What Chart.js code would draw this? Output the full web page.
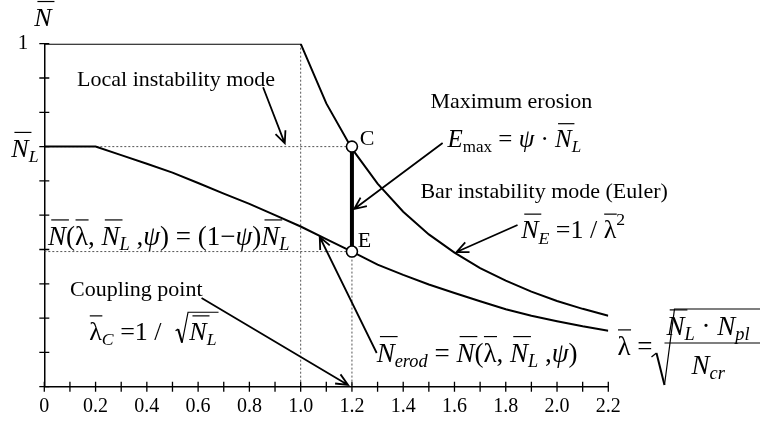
<!DOCTYPE html>
<html><head><meta charset="utf-8">
<script src="https://cdn.jsdelivr.net/npm/chart.js@4/dist/chart.umd.min.js"></script>
<style>html,body{margin:0;padding:0;background:#fff}#wrap{width:760px;height:421px;position:relative}</style>
</head><body><div id="wrap"><canvas id="c" width="760" height="421"></canvas></div>
<script>
// ---------- data ----------
const xTickLabels = ['0','','0.2','','0.4','','0.6','','0.8','','1.0','','1.2','','1.4','','1.6','','1.8','','2.0','','2.2'];
const lambdaEuler = [0, 1.0, 1.1, 1.2, 1.3, 1.4, 1.5, 1.6, 1.7, 1.8, 1.9, 2.0, 2.1, 2.2];
const nEuler      = [1, 1, 0.826, 0.694, 0.592, 0.510, 0.444, 0.391, 0.346, 0.309, 0.277, 0.250, 0.227, 0.207];
const lambdaErod  = [0, 0.2, 0.3, 0.4, 0.5, 0.6, 0.7, 0.8, 0.9, 1.0, 1.1, 1.2, 1.3, 1.4, 1.5, 1.6, 1.7, 1.8, 1.9, 2.0, 2.1, 2.2];
const nErod       = [0.7, 0.7, 0.675, 0.650, 0.624, 0.594, 0.563, 0.533, 0.500, 0.467, 0.430, 0.394, 0.356, 0.326, 0.298, 0.273, 0.249, 0.226, 0.207, 0.191, 0.176, 0.163];
const nL = 0.7;          // local buckling level
const nE = 0.394;        // eroded level at the coupling point
const lambdaC = 1.2;     // coupling slenderness
const lambdaOne = 1.0;

const pts = (xs, ys) => xs.map((x, i) => ({x, y: ys[i]}));

// ---------- annotation layout (data coordinates) ----------
const FONT = '"Liberation Serif", "Times New Roman", serif';
const textLabels = [
  {t: 'Local instability mode', at: [0.128, 0.876]},
  {t: 'Maximum erosion', at: [1.506, 0.8125]},
  {t: 'Bar instability mode (Euler)', at: [1.467, 0.55]},
  {t: 'Coupling point', at: [0.1001, 0.2644]},
  {t: 'C', at: [1.2303, 0.705]},
  {t: 'E', at: [1.223, 0.407]}
];
const arrows = [
  {from: [0.8534, 0.8729], to: [0.938, 0.7096]},
  {from: [1.5538, 0.7105], to: [1.2089, 0.518]},
  {from: [1.846, 0.4714], to: [1.608, 0.3927]},
  {from: [0.6134, 0.2586], to: [1.1847, 0.005]},
  {from: [1.2966, 0.0983], to: [1.0744, 0.4364]}
];
const NL = [{t:'N',i:1,b:1},{t:'L',i:1,s:'sub'}];
const equations = [
  {at: [1.573, 0.699], size: 25, runs: [{t:'E',i:1},{t:'max',s:'sub'},{t:' = '},{t:'ψ',i:1},{t:' · '},...NL]},
  {at: [1.860, 0.4326], size: 26, runs: [{t:'N',i:1,b:1},{t:'E',i:1,s:'sub'},{t:' =1 / '},{t:'λ',b:1},{t:'2',s:'sup'}]},
  {at: [0.0144, 0.413], size: 27, runs: [{t:'N',i:1,b:1},{t:'('},{t:'λ',b:1},{t:', '},...NL,{t:' ,'},{t:'ψ',i:1},{t:') = (1'},{t:'−'},{t:'ψ',i:1},{t:')'},...NL]},
  {at: [0.1754, 0.136], size: 26, runs: [{t:'λ',b:1},{t:'C',i:1,s:'sub'},{t:' =1 / ', gap: 7},{sqrt: NL}]},
  {at: [1.2966, 0.0729], size: 27, runs: [{t:'N',i:1,b:1},{t:'erod',i:1,s:'sub'},{t:' = '},{t:'N',i:1,b:1},{t:'('},{t:'λ',b:1},{t:', '},...NL,{t:' ,'},{t:'ψ',i:1},{t:')'}]}
];

// ---------- drawing helpers ----------
function runWidth(ctx, runs, size) {
  let w = 0;
  for (const r of runs) {
    if (r.sqrt) { w += 0.55 * size + runWidth(ctx, r.sqrt, size); continue; }
    const fs = r.s ? size * 0.68 : size;
    ctx.font = (r.i ? 'italic ' : '') + fs + 'px ' + FONT;
    w += ctx.measureText(r.t).width + (r.gap || 0);
  }
  return w;
}
function drawRuns(ctx, runs, x, y, size) {
  let cx = x;
  ctx.textBaseline = 'alphabetic';
  ctx.textAlign = 'left';
  for (const r of runs) {
    if (r.sqrt) {
      const inner = runWidth(ctx, r.sqrt, size);
      ctx.lineWidth = 1.3;
      ctx.beginPath();
      ctx.moveTo(cx + 0.02 * size, y - 0.36 * size);
      ctx.lineTo(cx + 0.12 * size, y - 0.42 * size);
      ctx.stroke();
      ctx.lineWidth = 2;
      ctx.beginPath();
      ctx.moveTo(cx + 0.12 * size, y - 0.42 * size);
      ctx.lineTo(cx + 0.27 * size, y + 0.1 * size);
      ctx.stroke();
      ctx.lineWidth = 1.2;
      ctx.beginPath();
      ctx.moveTo(cx + 0.27 * size, y + 0.1 * size);
      ctx.lineTo(cx + 0.5 * size, y - 1.07 * size);
      ctx.lineTo(cx + 0.55 * size + inner + 2, y - 1.07 * size);
      ctx.stroke();
      cx = drawRuns(ctx, r.sqrt, cx + 0.55 * size, y, size);
      continue;
    }
    const fs = r.s ? size * 0.68 : size;
    ctx.font = (r.i ? 'italic ' : '') + fs + 'px ' + FONT;
    const dy = r.s === 'sub' ? size * 0.2 : (r.s === 'sup' ? -size * 0.5 : 0);
    const w = ctx.measureText(r.t).width;
    ctx.fillText(r.t, cx, y + dy);
    if (r.b) {
      const off = r.i ? 0.12 * size : 0.02 * size;
      ctx.lineWidth = 1.2;
      ctx.beginPath();
      ctx.moveTo(cx + off, y - 0.93 * size);
      ctx.lineTo(cx + w + off * 0.9, y - 0.93 * size);
      ctx.stroke();
    }
    cx += w + (r.gap || 0);
  }
  return cx;
}
function arrow(ctx, x1, y1, x2, y2) {
  const a = Math.atan2(y2 - y1, x2 - x1), L = 13, h = 0.42;
  ctx.lineWidth = 1.8;
  ctx.beginPath();
  ctx.moveTo(x1, y1); ctx.lineTo(x2, y2);
  ctx.moveTo(x2 - L * Math.cos(a - h), y2 - L * Math.sin(a - h));
  ctx.lineTo(x2, y2);
  ctx.lineTo(x2 - L * Math.cos(a + h), y2 - L * Math.sin(a + h));
  ctx.stroke();
}

const overlay = {
  id: 'overlay',
  afterDatasetsDraw(chart) {
    const ctx = chart.ctx, xs = chart.scales.x, ys = chart.scales.y;
    const X = v => xs.getPixelForValue(v), Y = v => ys.getPixelForValue(v);
    ctx.save();
    ctx.strokeStyle = '#000'; ctx.fillStyle = '#000';
    // tick marks crossing both axes
    ctx.lineWidth = 1.3;
    ctx.beginPath();
    xs.ticks.forEach(t => { const px = X(t.value); ctx.moveTo(px, chart.chartArea.bottom - 5); ctx.lineTo(px, chart.chartArea.bottom + 5); });
    ys.ticks.forEach(t => { const py = Y(t.value); ctx.moveTo(chart.chartArea.left - 5, py); ctx.lineTo(chart.chartArea.left + 5, py); });
    ctx.stroke();
    // plain labels
    ctx.font = '22px ' + FONT;
    ctx.textBaseline = 'alphabetic'; ctx.textAlign = 'left';
    textLabels.forEach(l => ctx.fillText(l.t, X(l.at[0]), Y(l.at[1])));
    // arrows
    arrows.forEach(a => arrow(ctx, X(a.from[0]), Y(a.from[1]), X(a.to[0]), Y(a.to[1])));
    // equations
    equations.forEach(e => drawRuns(ctx, e.runs, X(e.at[0]), Y(e.at[1]), e.size));
    // axis title and N_L level label
    const L0 = chart.chartArea.left;
    drawRuns(ctx, [{t:'N',i:1,b:1}], L0 - 10, Y(1) - 18, 26);
    drawRuns(ctx, NL, L0 - 33, Y(nL) + 10, 26);
    // slenderness definition
    const ax = X(2.2358), ay = Y(0.0924), s = 27;
    drawRuns(ctx, [{t:'λ',b:1},{t:' ='}], ax, ay, s);
    ctx.lineWidth = 1.3;
    ctx.beginPath(); ctx.moveTo(ax + 34, ay + 2); ctx.lineTo(ax + 39, ay - 2); ctx.stroke();
    ctx.lineWidth = 2;
    ctx.beginPath(); ctx.moveTo(ax + 39, ay - 2); ctx.lineTo(ax + 47, ay + 30); ctx.stroke();
    ctx.lineWidth = 1.2;
    ctx.beginPath(); ctx.moveTo(ax + 47, ay + 30); ctx.lineTo(ax + 57, ay - 46); ctx.lineTo(ax + 150, ay - 46); ctx.stroke();
    ctx.beginPath(); ctx.moveTo(ax + 47, ay - 12); ctx.lineTo(ax + 150, ay - 12); ctx.stroke();
    drawRuns(ctx, [...NL, {t:' · '}, {t:'N',i:1}, {t:'pl',i:1,s:'sub'}], ax + 49, ay - 20, s);
    drawRuns(ctx, [{t:'N',i:1}, {t:'cr',i:1,s:'sub'}], ax + 74, ay + 19, s);
    ctx.restore();
  }
};

const dotted = {borderColor: '#555', borderWidth: 1, borderDash: [2, 2], pointRadius: 0, fill: false, order: 5};
new Chart(document.getElementById('c'), {
  type: 'scatter',
  data: {datasets: [
    {...dotted, data: [{x: 0, y: nL}, {x: lambdaC, y: nL}], showLine: true},
    {...dotted, data: [{x: lambdaOne, y: 1}, {x: lambdaOne, y: 0}], showLine: true},
    {...dotted, data: [{x: 0, y: nE}, {x: lambdaC, y: nE}], showLine: true},
    {...dotted, data: [{x: lambdaC, y: nE}, {x: lambdaC, y: 0}], showLine: true},
    {data: pts(lambdaEuler, nEuler), showLine: true, borderColor: '#000', borderWidth: 2, pointRadius: 0, tension: 0, order: 3},
    {data: pts(lambdaErod, nErod), showLine: true, borderColor: '#000', borderWidth: 2, pointRadius: 0, tension: 0, order: 3},
    {data: [{x: lambdaC, y: nL}, {x: lambdaC, y: nE}], showLine: true, borderColor: '#000', borderWidth: 4, pointRadius: 0, order: 2},
    {data: [{x: lambdaC, y: nL}, {x: lambdaC, y: nE}], showLine: false, pointRadius: 5.5, pointBackgroundColor: '#fff', pointBorderColor: '#000', pointBorderWidth: 1.6, order: 0}
  ]},
  options: {
    responsive: false, animation: false, events: [],
    layout: {padding: {top: 43.7, right: 151.7, bottom: 0, left: 0}},
    plugins: {legend: {display: false}, tooltip: {enabled: false}},
    scales: {
      x: {type: 'linear', min: 0, max: 2.2,
          grid: {display: false}, border: {display: true, color: '#000', width: 1.5},
          afterFit: s => { s.height = 34.3; },
          ticks: {stepSize: 0.1, autoSkip: false, maxRotation: 0, padding: 0, color: '#000',
                  font: {family: FONT, size: 20},
                  callback: v => xTickLabels[Math.round(v * 10)] ?? ''}},
      y: {type: 'linear', min: 0, max: 1,
          grid: {display: false}, border: {display: true, color: '#000', width: 1.5},
          afterFit: s => { s.width = 44.3; },
          ticks: {stepSize: 0.1, autoSkip: false, padding: 8, color: '#000',
                  font: {family: FONT, size: 21},
                  callback: v => Math.abs(v - 1) < 1e-6 ? '1' : ''}}
    }
  },
  plugins: [overlay]
});
</script></body></html>
